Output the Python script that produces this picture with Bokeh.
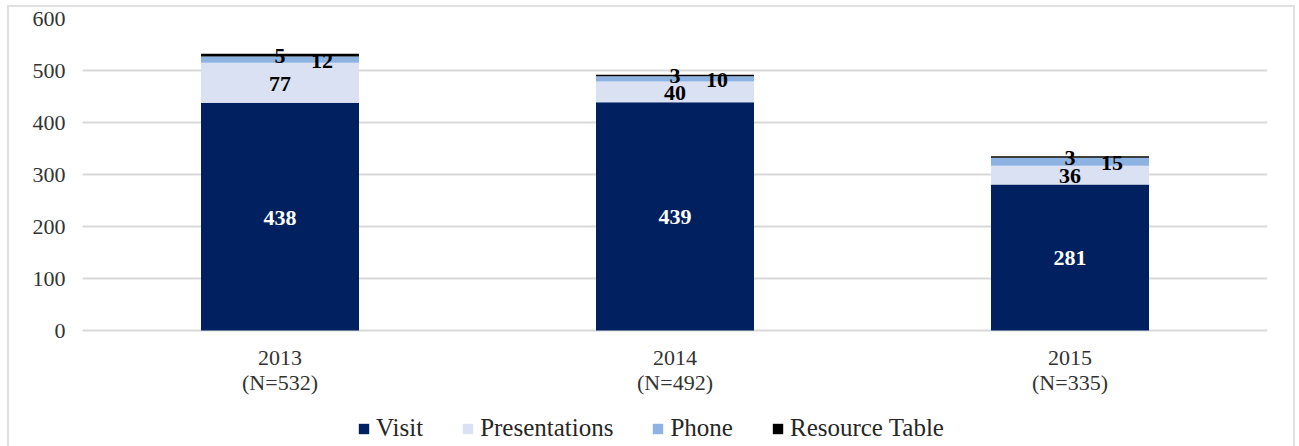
from bokeh.plotting import figure
from bokeh.layouts import column
from bokeh.models import (ColumnDataSource, FactorRange, Range1d, Legend, LegendItem, LabelSet,
                          FixedTicker)
from bokeh.embed import file_html
from bokeh.resources import INLINE
from bokeh.core.properties import value

years = ["2013", "2014", "2015"]
totals = [532, 492, 335]
visit = [438, 439, 281]
presentations = [77, 40, 36]
phone = [12, 10, 15]
resource = [5, 3, 3]
series_names = ["Visit", "Presentations", "Phone", "Resource Table"]
colors = ["#002060", "#D9E1F2", "#8DB3E2", "#000000"]
n_labels = [f"(N={n})" for n in totals]
y_ticks = [0, 100, 200, 300, 400, 500, 600]

FONT = "Liberation Serif"

src = ColumnDataSource(dict(cat=years, Visit=visit, Presentations=presentations,
                            Phone=phone, **{"Resource Table": resource}))

# frame extends below the zero line so that category labels and legend sit inside it
p = figure(x_range=FactorRange(*years, range_padding=0), y_range=Range1d(-250, 600),
           frame_width=1185, frame_height=442, output_backend="svg", toolbar_location=None,
           x_axis_location=None,
           min_border_left=73, min_border_right=26, min_border_top=11, min_border_bottom=0)

renderers = p.vbar_stack(series_names, x="cat", width=0.4, color=colors, source=src,
                         line_color=None)

def centers(base, vals):
    return [b + v / 2 for b, v in zip(base, vals)]

b0 = [0] * 3
b1 = visit
b2 = [a + b for a, b in zip(visit, presentations)]
b3 = [a + b for a, b in zip(b2, phone)]

lab_specs = [
    (visit, b0, "white", 0),
    (presentations, b1, "black", 0),
    (phone, b2, "black", 42),
    (resource, b3, "black", 0),
]
for vals, base, col, xoff in lab_specs:
    s = ColumnDataSource(dict(x=years, y=centers(base, vals), t=[str(v) for v in vals]))
    p.add_layout(LabelSet(x="x", y="y", text="t", source=s, text_align="center",
                          text_baseline="middle", text_color=col, x_offset=xoff, y_offset=-1,
                          text_font=value(FONT), text_font_size="22px",
                          text_font_style="bold"))

# category labels (two lines) under the bars
for texts, yoff in ((years, -27), (n_labels, -52)):
    s = ColumnDataSource(dict(x=years, y=[0] * len(years), t=texts))
    p.add_layout(LabelSet(x="x", y="y", text="t", source=s, text_align="center",
                          text_baseline="middle", text_color="#333333", y_offset=yoff,
                          text_font=value(FONT), text_font_size="22px"))

p.yaxis.ticker = FixedTicker(ticks=y_ticks)
p.ygrid.grid_line_color = "#D9D9D9"
p.ygrid.grid_line_width = 2
p.xgrid.grid_line_color = None

ax = p.yaxis[0]
ax.axis_line_color = None
ax.major_tick_line_color = None
ax.minor_tick_line_color = None
ax.major_tick_out = 0
ax.major_label_text_font = FONT
ax.major_label_text_font_size = "22px"
ax.major_label_text_color = "#333333"
ax.major_label_standoff = 17
p.outline_line_color = None

legend = Legend(items=[LegendItem(label=n, renderers=[r]) for n, r in zip(series_names, renderers)],
                orientation="horizontal", location=(275, 18),
                label_text_font=FONT, label_text_font_size="25px", label_text_color="#262626",
                glyph_width=13, glyph_height=13, spacing=38, label_standoff=6,
                border_line_color=None, background_fill_alpha=0, padding=2, margin=0)
p.add_layout(legend, "center")

layout = column(p, styles={"border": "2px solid #E0E0E0", "margin": "5px 0 0 7px"})
open("out.html", "w").write(file_html(layout, INLINE))
